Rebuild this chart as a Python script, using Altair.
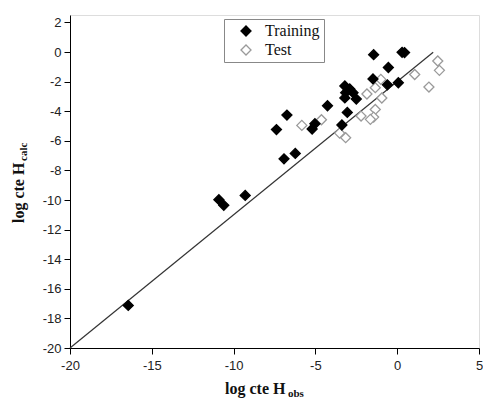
import altair as alt
import pandas as pd

# Training set (filled diamonds)
train_x = [-16.44, -10.9, -10.6, -9.29, -6.92, -6.23, -7.38, -6.74, -5.2, -5.03,
           -4.26, -3.38, -3.05, -3.2, -2.9, -3.15, -2.7, -3.2, -2.5, -1.48,
           -1.44, -0.54, -0.6, 0.07, 0.3, 0.45]
train_y = [-17.12, -9.98, -10.36, -9.69, -7.22, -6.85, -5.24, -4.26, -5.2, -4.85,
           -3.63, -4.93, -4.08, -2.3, -2.5, -2.75, -2.75, -3.1, -3.18, -1.82,
           -0.18, -1.05, -2.22, -2.08, -0.02, -0.04]

# Test set (open diamonds)
test_x = [2.48, 2.58, 1.07, 1.94, -1.0, -1.34, -1.85, -0.94, -1.34, -1.44,
          -1.64, -2.21, -3.52, -3.15, -4.63, -5.83]
test_y = [-0.61, -1.24, -1.52, -2.37, -1.85, -2.41, -2.84, -3.11, -3.88, -4.4,
          -4.55, -4.33, -5.48, -5.79, -4.58, -4.96]

# Fitted line endpoints
line_x = [-20.0, 2.2]
line_y = [-20.0, -0.02]

x_ticks = [-20, -15, -10, -5, 0, 5]
y_ticks = [-20, -18, -16, -14, -12, -10, -8, -6, -4, -2, 0, 2]
sets = ["Training", "Test"]

df = pd.DataFrame({
    "x": train_x + test_x,
    "y": train_y + test_y,
    "set": ["Training"] * len(train_x) + ["Test"] * len(test_x),
})
df_line = pd.DataFrame({"x": line_x, "y": line_y})

xscale = alt.Scale(domain=[-20, 5], nice=False, zero=False)
yscale = alt.Scale(domain=[-20, 2.5], nice=False, zero=False)

xaxis = alt.Axis(values=x_ticks, title=None, grid=False, domainColor="#000",
                 tickColor="#000", tickSize=6, labelFont="Liberation Sans",
                 labelFontSize=13, labelColor="#222", labelPadding=5,
                 labelFlush=False, labelExpr="'' + datum.value")
yaxis = alt.Axis(values=y_ticks, title=None, grid=False, domainColor="#000",
                 tickColor="#000", tickSize=6, labelFont="Liberation Sans",
                 labelFontSize=13, labelColor="#222", labelPadding=3,
                 labelExpr="'' + datum.value")

line = alt.Chart(df_line).mark_line(color="#333", strokeWidth=1.2).encode(
    x=alt.X("x:Q", scale=xscale, axis=xaxis),
    y=alt.Y("y:Q", scale=yscale, axis=yaxis),
)

leg = alt.Legend(title=None, orient="none", legendX=154, legendY=4,
                 strokeColor="#888", fillColor="#fff", padding=4,
                 labelFont="Liberation Serif", labelFontSize=16,
                 labelColor="#111", symbolSize=100, symbolStrokeWidth=1.3,
                 symbolType="diamond", rowPadding=3, symbolOffset=10,
                 labelOffset=11)

points = alt.Chart(df).mark_point(shape="diamond", size=100, strokeWidth=1.3,
                                  opacity=1).encode(
    x=alt.X("x:Q", scale=xscale, axis=xaxis),
    y=alt.Y("y:Q", scale=yscale, axis=yaxis),
    stroke=alt.Stroke("set:N", scale=alt.Scale(domain=sets, range=["#000000", "#9a9a9a"]), legend=leg),
    fill=alt.Fill("set:N", scale=alt.Scale(domain=sets, range=["#000000", "#ffffff"]), legend=leg),
    order=alt.Order("set:N", sort="ascending"),
)

tfont = "Liberation Serif"
xt_main = alt.Chart(pd.DataFrame({"t": ["log cte H"]})).mark_text(
    font=tfont, fontWeight="bold", fontSize=16, align="left", baseline="alphabetic",
    color="#111").encode(x=alt.value(155), y=alt.value(379), text="t:N")
xt_sub = alt.Chart(pd.DataFrame({"t": ["obs"]})).mark_text(
    font=tfont, fontWeight="bold", fontSize=11, align="left", baseline="alphabetic",
    color="#111").encode(x=alt.value(218), y=alt.value(382), text="t:N")
yt_main = alt.Chart(pd.DataFrame({"t": ["log cte H"]})).mark_text(
    font=tfont, fontWeight="bold", fontSize=16, align="left", baseline="alphabetic",
    angle=270, color="#111").encode(x=alt.value(-46), y=alt.value(208), text="t:N")
yt_sub = alt.Chart(pd.DataFrame({"t": ["calc"]})).mark_text(
    font=tfont, fontWeight="bold", fontSize=11, align="left", baseline="alphabetic",
    angle=270, color="#111").encode(x=alt.value(-43), y=alt.value(146), text="t:N")

chart = alt.layer(line, points, xt_main, xt_sub, yt_main, yt_sub).properties(
    width=409, height=333,
    autosize=alt.AutoSizeParams(type="none"),
    padding={"left": 62, "top": 7, "right": 4, "bottom": 51},
).configure_view(stroke=None).configure(background="#ffffff")

chart.save("out.html", embed_options={"renderer": "svg", "actions": False})
